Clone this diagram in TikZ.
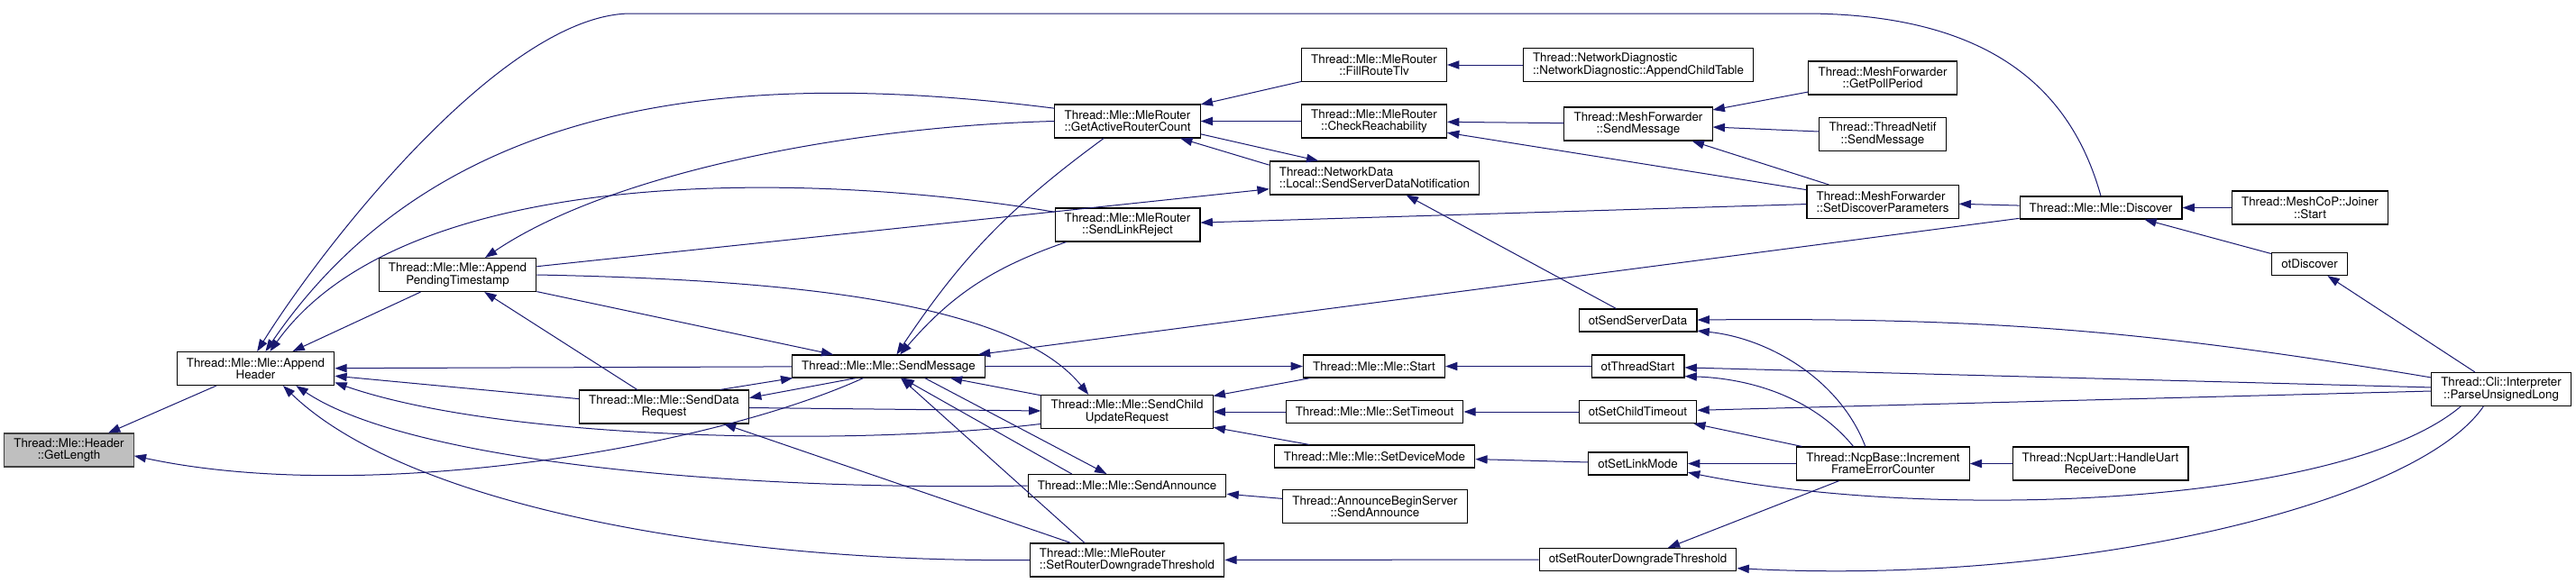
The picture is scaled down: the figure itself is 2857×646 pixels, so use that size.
\documentclass[tikz,border=0pt]{standalone}
\usepackage{fontspec}
\setmainfont{TeX Gyre Heros}
\usepackage{tikz}
\usetikzlibrary{arrows.meta}
\definecolor{edgeblue}{RGB}{25, 25, 112}
\definecolor{rootgrey}{RGB}{191, 191, 191}

\begin{document}
\begin{tikzpicture}[x=0.75pt, y=-0.75pt, font=\fontsize{10}{10}\selectfont,
    >={Triangle[length=10pt, width=7pt]},
    fn/.style={draw, fill=white, line width=0.8pt, inner xsep=8pt, inner ysep=2pt,
      minimum height=18.75pt, align=center},
    fntwo/.style={fn, minimum height=27.75pt},
    fnleft/.style={fntwo, align=left},
    callarrow/.style={->, draw=edgeblue, line width=0.75pt}]
  \path[fill=white, use as bounding box] (0,0) rectangle (2857,646);

  % Column 1-4: header and the Mle helpers
  \node[fntwo, fill=rootgrey, draw=black!75] (getlen) at (76.5,499.5) {Thread::Mle::Header\\::GetLength};
  \node[fntwo] (apphdr)   at (283.5,409)   {Thread::Mle::Mle::Append\\Header};
  \node[fntwo] (appts)    at (507.5,305)   {Thread::Mle::Mle::Append\\PendingTimestamp};
  \node[fntwo] (senddata) at (736.5,451.5) {Thread::Mle::Mle::SendData\\Request};
  \node[fn]    (sendmsg)  at (985.5,406.5) {Thread::Mle::Mle::SendMessage};

  % Column 6: MleRouter and Mle senders
  \node[fntwo]  (activecnt) at (1250.5,134.5) {Thread::Mle::MleRouter\\::GetActiveRouterCount};
  \node[fntwo]  (linkrej)   at (1250.5,249.5) {Thread::Mle::MleRouter\\::SendLinkReject};
  \node[fntwo]  (childupd)  at (1250,457)     {Thread::Mle::Mle::SendChild\\UpdateRequest};
  \node[fn]     (announce)  at (1250,539)     {Thread::Mle::Mle::SendAnnounce};
  \node[fnleft] (downgrade) at (1250,621.5)   {Thread::Mle::MleRouter\\::SetRouterDowngradeThreshold};

  % Column 7
  \node[fntwo]  (fillroute) at (1524,72)     {Thread::Mle::MleRouter\\::FillRouteTlv};
  \node[fntwo]  (reach)     at (1524,134.5)  {Thread::Mle::MleRouter\\::CheckReachability};
  \node[fnleft] (srvnotif)  at (1524.5,197.5){Thread::NetworkData\\::Local::SendServerDataNotification};
  \node[fn]     (mlestart)  at (1524,406.5)  {Thread::Mle::Mle::Start};
  \node[fn]     (settime)   at (1524.5,457)  {Thread::Mle::Mle::SetTimeout};
  \node[fn]     (devmode)   at (1524.5,506.5){Thread::Mle::Mle::SetDeviceMode};
  \node[fntwo]  (annserver) at (1525,562)    {Thread::AnnounceBeginServer\\::SendAnnounce};

  % Column 8: diagnostics, forwarder and the ot* API
  \node[fnleft] (childtbl)    at (1817,72)     {Thread::NetworkDiagnostic\\::NetworkDiagnostic::AppendChildTable};
  \node[fntwo]  (meshsend)    at (1817,137.5)  {Thread::MeshForwarder\\::SendMessage};
  \node[fn]     (otsrvdata)   at (1816.5,355.5){otSendServerData};
  \node[fn]     (otstart)     at (1816.5,406.5){otThreadStart};
  \node[fn]     (otchildto)   at (1816.5,457)  {otSetChildTimeout};
  \node[fn]     (otlink)      at (1816.5,514.5){otSetLinkMode};
  \node[fn]     (otdowngrade) at (1816.5,621)  {otSetRouterDowngradeThreshold};

  % Column 9-12
  \node[fntwo]  (pollper)    at (2088,86.5)   {Thread::MeshForwarder\\::GetPollPeriod};
  \node[fntwo]  (netifsend)  at (2088,149)    {Thread::ThreadNetif\\::SendMessage};
  \node[fnleft] (discparams) at (2088,224)    {Thread::MeshForwarder\\::SetDiscoverParameters};
  \node[fntwo]  (errcnt)     at (2088.5,514.5){Thread::NcpBase::Increment\\FrameErrorCounter};
  \node[fn]     (discover)   at (2330,230.5)  {Thread::Mle::Mle::Discover};
  \node[fntwo]  (uartrecv)   at (2329.5,514.5){Thread::NcpUart::HandleUart\\ReceiveDone};
  \node[fntwo]  (joiner)     at (2562,230.5)  {Thread::MeshCoP::Joiner\\::Start};
  \node[fn]     (otdisc)     at (2561.5,293)  {otDiscover};
  \node[fntwo]  (parselong)  at (2774,432)    {Thread::Cli::Interpreter\\::ParseUnsignedLong};

  % callers of GetLength
  \draw[callarrow] (apphdr) -- (getlen);
  \draw[callarrow] (sendmsg.205) .. controls (780,500) and (400,560) .. (getlen.-5);

  % callers of AppendHeader
  \draw[callarrow] (appts) -- (apphdr);
  \draw[callarrow] (discover.north) .. controls (2300,110) and (2220,15) .. (2000,15)
    -- (700,15) .. controls (560,15) and (360,270) .. (apphdr.85);
  \draw[callarrow] (activecnt.170) .. controls (850,80) and (498,92) .. (apphdr.60);
  \draw[callarrow] (linkrej.170) .. controls (900,190) and (450,180) .. (apphdr.50);
  \draw[callarrow] (sendmsg) -- (apphdr);
  \draw[callarrow] (senddata) -- (apphdr);
  \draw[callarrow] (childupd.188) .. controls (950,495) and (560,490) .. (apphdr.-10);
  \draw[callarrow] (announce.west) .. controls (800,545) and (450,510) .. (apphdr.-23);
  \draw[callarrow] (downgrade.west) .. controls (800,625) and (450,560) .. (apphdr.-32);

  % callers of AppendPendingTimestamp
  \draw[callarrow] (senddata) -- (appts);
  \draw[callarrow] (activecnt.west) .. controls (950,140) and (680,190) .. (appts.32);

  % callers of SendMessage and SendDataRequest
  \draw[callarrow] (appts) -- (sendmsg);
  \draw[callarrow] (activecnt) to[bend right=10] (sendmsg);
  \draw[callarrow] (linkrej) to[bend right=15] (sendmsg);
  \draw[callarrow] (discover) -- (sendmsg);
  \draw[callarrow] (senddata.17) -- (sendmsg.187);
  \draw[callarrow] (childupd) -- (sendmsg);
  \draw[callarrow] (announce.168) -- (sendmsg.-41);
  \draw[callarrow] (downgrade.158) -- (sendmsg.-44);
  \draw[callarrow] (sendmsg.200) -- (senddata.6);
  \draw[callarrow] (downgrade.163) -- (senddata.-16);

  % callers of SendChildUpdateRequest
  \draw[callarrow] (appts.east) .. controls (850,310) and (1120,330) .. (childupd.156);
  \draw[callarrow] (senddata) -- (childupd);
  \draw[callarrow] (mlestart) -- (childupd);
  \draw[callarrow] (settime) -- (childupd);
  \draw[callarrow] (devmode) -- (childupd);

  % Start, SetTimeout, SetDeviceMode, SendAnnounce, downgrade threshold
  \draw[callarrow] (sendmsg) -- (mlestart);
  \draw[callarrow] (otstart) -- (mlestart);
  \draw[callarrow] (otchildto) -- (settime);
  \draw[callarrow] (otlink) -- (devmode);
  \draw[callarrow] (sendmsg.-18) -- (announce.150);
  \draw[callarrow] (annserver) -- (announce);
  \draw[callarrow] (otdowngrade) -- (downgrade);

  % GetActiveRouterCount and SendServerDataNotification
  \draw[callarrow] (fillroute) -- (activecnt);
  \draw[callarrow] (reach) -- (activecnt);
  \draw[callarrow] (srvnotif.173) -- (activecnt.-18);
  \draw[callarrow] (appts) -- (srvnotif);
  \draw[callarrow] (activecnt.-10) -- (srvnotif.163);
  \draw[callarrow] (otsrvdata) -- (srvnotif);
  \draw[callarrow] (discparams) -- (linkrej);

  % FillRouteTlv, CheckReachability, MeshForwarder
  \draw[callarrow] (childtbl) -- (fillroute);
  \draw[callarrow] (meshsend) -- (reach);
  \draw[callarrow] (discparams) -- (reach);
  \draw[callarrow] (pollper) -- (meshsend);
  \draw[callarrow] (netifsend) -- (meshsend);
  \draw[callarrow] (discparams) -- (meshsend);

  % Discover
  \draw[callarrow] (discover) -- (discparams);
  \draw[callarrow] (joiner) -- (discover);
  \draw[callarrow] (otdisc) -- (discover);
  \draw[callarrow] (parselong) -- (otdisc);

  % ot* API callers
  \draw[callarrow] (parselong) to[bend right=5] (otsrvdata);
  \draw[callarrow] (errcnt.136) .. controls (2040,420) and (1960,375) .. (otsrvdata.-10);
  \draw[callarrow] (parselong) -- (otstart);
  \draw[callarrow] (errcnt.150) .. controls (2010,440) and (1940,420) .. (otstart.-12);
  \draw[callarrow] (parselong) -- (otchildto);
  \draw[callarrow] (errcnt) -- (otchildto);
  \draw[callarrow] (errcnt) -- (otlink);
  \draw[callarrow] (parselong.203) .. controls (2600,560) and (2150,580) .. (otlink.-10);
  \draw[callarrow] (errcnt) -- (otdowngrade);
  \draw[callarrow] (parselong.224) .. controls (2680,560) and (2300,650) .. (otdowngrade.-5);
  \draw[callarrow] (uartrecv) -- (errcnt);
\end{tikzpicture}
\end{document}
